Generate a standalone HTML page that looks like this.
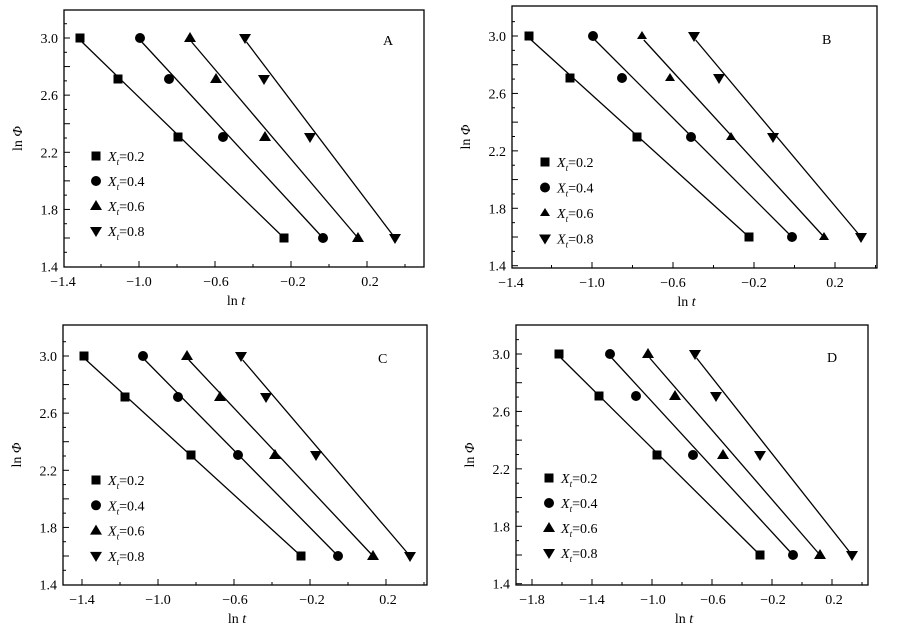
<!DOCTYPE html><html><head><style>body{margin:0;background:#fff}svg{display:block}text{font-family:"Liberation Serif",serif;fill:#000}</style></head><body>
<svg id="s" width="899" height="633" xmlns="http://www.w3.org/2000/svg"></svg>
<script>
const P=[
{f:[64,10,424,267],y3:38,y16:238,xm:[[63,"−1.4"],[139,"−1.0"],[216,"−0.6"],[293,"−0.2"],[370,"0.2"]],lab:"A",lx:383,ly:45,lg:[96,156,25],
pts:[[[80,38],[118,79],[178,137],[284,238]],[[140,38],[169,79],[223,137],[323,238]],[[190,38],[216,79],[265,137],[358,238]],[[245,38],[264,79],[310,137],[395,238]]],small:false},
{f:[512,6,877,268],y3:36,y16:237,xm:[[511,"−1.4"],[592,"−1.0"],[673,"−0.6"],[754,"−0.2"],[835,"0.2"]],lab:"B",lx:822,ly:44,lg:[545,162,25.5],
pts:[[[529,36],[570,78],[637,137],[749,237]],[[593,36],[622,78],[691,137],[792,237]],[[642,36],[670,78],[731,137],[824,237]],[[694,36],[719,78],[773,137],[861,237]]],small:true},
{f:[63,325,427,585],y3:356,y16:556,xm:[[82,"−1.4"],[158,"−1.0"],[235,"−0.6"],[312,"−0.2"],[388,"0.2"]],lab:"C",lx:378,ly:363,lg:[96,480,25.3],
pts:[[[84,356],[125,397],[191,455],[301,556]],[[143,356],[178,397],[238,455],[338,556]],[[187,356],[220,397],[275,455],[373,556]],[[241,356],[266,397],[316,455],[410,556]]],small:false},
{f:[516,325,868,585],y3:354,y16:555,xm:[[532,"−1.8"],[592,"−1.4"],[653,"−1.0"],[713,"−0.6"],[773,"−0.2"],[834,"0.2"]],lab:"D",lx:827,ly:362,lg:[549,478,25],
pts:[[[559,354],[599,396],[657,455],[760,555]],[[610,354],[636,396],[693,455],[793,555]],[[648,354],[675,396],[723,455],[820,555]],[[695,354],[716,396],[760,455],[852,555]]],small:false}];
let h="";
function mk(t,x,y,sm){const r=sm?4:5;
 if(t==0)return `<rect x="${x-4.5}" y="${y-4.5}" width="9" height="9"/>`;
 if(t==1)return `<circle cx="${x}" cy="${y}" r="5"/>`;
 if(t==2)return `<polygon points="${x},${y-r-1} ${x-r-1},${y+r-1} ${x+r+1},${y+r-1}"/>`;
 return `<polygon points="${x},${y+6} ${x-6},${y-4} ${x+6},${y-4}"/>`;}
for(const p of P){const[l,t,r,b]=p.f;
 h+=`<rect x="${l}" y="${t}" width="${r-l}" height="${b-t}" fill="none" stroke="#000" stroke-width="1.3"/>`;
 const st=(p.y16-p.y3)/7;
 for(let i=-1;i<20;i++){const y=p.y3+i*st/2;if(y<t+2||y>b-0.5)continue;const maj=(i%2==0);
  h+=`<line x1="${l}" x2="${l+(maj?6:3)}" y1="${y}" y2="${y}" stroke="#000"/>`;}
 [3.0,2.6,2.2,1.8,1.4].forEach(v=>{const y=p.y3+(3-v)/0.2*st;h+=`<text x="${l-6}" y="${y+5}" font-size="14" text-anchor="end">${v.toFixed(1)}</text>`;});
 const xs=p.xm,d=(xs[1][0]-xs[0][0])/2;
 for(let x=xs[0][0]-2*d;x<r;x+=d){if(x<l+1)continue;const maj=Math.round((x-xs[0][0])/d)%2==0;
  h+=`<line x1="${x}" x2="${x}" y1="${b}" y2="${b-(maj?6:3)}" stroke="#000"/>`;}
 xs.forEach(([x,s])=>h+=`<text x="${x}" y="${b+19}" font-size="14" text-anchor="middle">${s}</text>`);
 const cx=(l+r)/2;
 h+=`<text x="${cx-8}" y="${b+38}" font-size="14" text-anchor="middle">ln <tspan font-style="italic">t</tspan></text>`;
 const cy=(t+b)/2;
 h+=`<text transform="translate(${l-42},${cy}) rotate(-90)" font-size="14" text-anchor="middle">ln <tspan font-style="italic">Φ</tspan></text>`;
 h+=`<text x="${p.lx}" y="${p.ly}" font-size="14">${p.lab}</text>`;
 p.pts.forEach((s,k)=>{const a=s[0],z=s[3];const dx=(z[0]-a[0]);
  h+=`<line x1="${a[0]+dx*0.01}" y1="${a[1]+4}" x2="${z[0]}" y2="${z[1]}" stroke="#000" stroke-width="1.3"/>`;
  s.forEach(q=>h+=mk(k,q[0],q[1],p.small&&k==2));
  const ly=p.lg[1]+k*p.lg[2];
  h+=mk(k,p.lg[0],ly,p.small&&k==2);
  h+=`<text x="${p.lg[0]+12}" y="${ly+5}" font-size="14"><tspan font-style="italic">X</tspan><tspan font-style="italic" font-size="9" dy="4">t</tspan><tspan dy="-4">=0.${2*(k+1)}</tspan></text>`;});
}
document.getElementById("s").innerHTML=h;
</script></body></html>
